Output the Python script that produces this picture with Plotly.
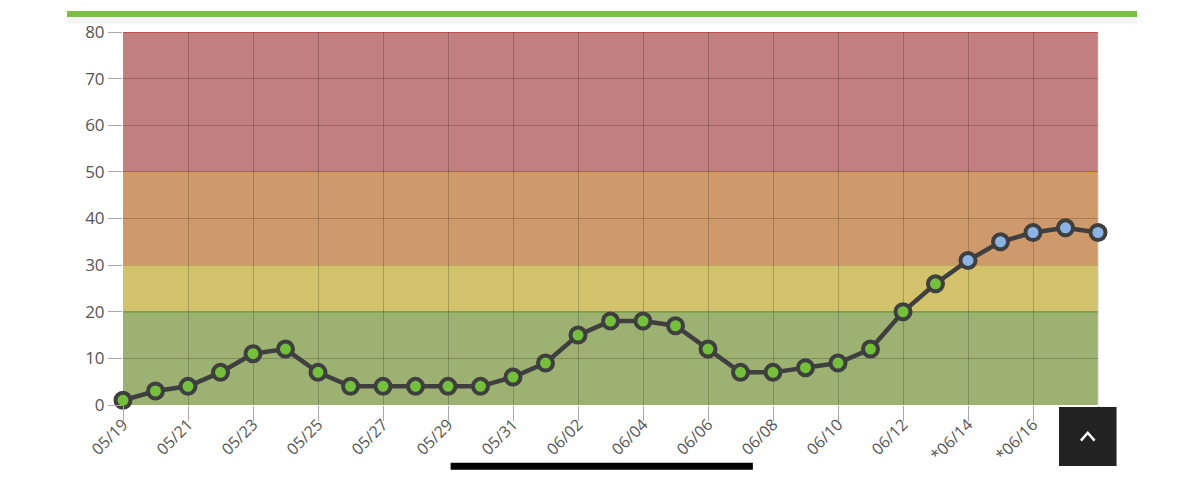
import plotly.graph_objects as go

# Daily index values (05/19 .. 06/18), entries from 06/14 on are forecasts
dates = ["05/19", "05/20", "05/21", "05/22", "05/23", "05/24", "05/25", "05/26",
         "05/27", "05/28", "05/29", "05/30", "05/31", "06/01", "06/02", "06/03",
         "06/04", "06/05", "06/06", "06/07", "06/08", "06/09", "06/10", "06/11",
         "06/12", "06/13", "06/14", "06/15", "06/16", "06/17", "06/18"]
values = [1, 3, 4, 7, 11, 12, 7, 4, 4, 4, 4, 4, 6, 9, 15, 18,
          18, 17, 12, 7, 7, 8, 9, 12, 20, 26, 31, 35, 37, 38, 37]
forecast = [False] * 26 + [True] * 5

tick_dates = dates[::2]
tick_labels = [("*" if f else "") + d for d, f in zip(dates[::2], forecast[::2])]

# Risk bands: (low, high, fill, edge line)
band_low = [0, 20, 30, 50]
band_high = [20, 30, 50, 80]
band_fill = ["#9db173", "#d1c26b", "#cf9a6b", "#c17f7f"]
band_edge = ["#5f9f30", "#f7e37a", "#e8913f", "#c23a3a"]

marker_colors = ["#8ab4e6" if f else "#74bf3c" for f in forecast]

fig = go.Figure()

fig.add_trace(go.Scatter(
    x=dates, y=values,
    mode="lines+markers",
    line=dict(color="#3f3f3f", width=4.5),
    marker=dict(size=15, color=marker_colors,
                line=dict(color="#3f3f3f", width=4)),
    cliponaxis=False,
    showlegend=False,
))

shapes = []
for lo, hi, fill, edge in zip(band_low, band_high, band_fill, band_edge):
    shapes.append(dict(type="rect", xref="x domain", yref="y",
                       x0=0, x1=1, y0=lo, y1=hi,
                       fillcolor=fill, line_width=0, layer="below"))
    shapes.append(dict(type="line", xref="x domain", yref="y",
                       x0=0, x1=1, y0=hi, y1=hi,
                       line=dict(color=edge, width=1.5), layer="below"))
# thin right edge of the plot area
shapes.append(dict(type="line", xref="x domain", yref="y domain",
                   x0=1, x1=1, y0=0, y1=1,
                   line=dict(color="rgba(200,200,200,0.8)", width=1), layer="below"))

# page chrome from the screenshot: green header bar, back-to-top button, home bar
shapes.append(dict(type="rect", xref="paper", yref="paper",
                   x0=-0.0574, x1=1.040, y0=1.040, y1=1.056,
                   fillcolor="#7cbf45", line_width=0, layer="above"))
shapes.append(dict(type="rect", xref="paper", yref="paper",
                   x0=-0.0574, x1=1.040, y0=1.022, y1=1.040,
                   fillcolor="rgba(0,0,0,0.04)", line_width=0, layer="above"))
shapes.append(dict(type="rect", xref="paper", yref="paper",
                   x0=0.961, x1=1.018, y0=-0.161, y1=-0.008,
                   fillcolor="#222222", line=dict(color="#222222", width=2),
                   layer="above"))
shapes.append(dict(type="path", xref="paper", yref="paper",
                   path="M 0.9825,-0.0955 L 0.9895,-0.0745 L 0.9965,-0.0955",
                   line=dict(color="white", width=2.5), layer="above"))
shapes.append(dict(type="line", xref="paper", yref="paper",
                   x0=0.336, x1=0.646, y0=-0.164, y1=-0.164,
                   line=dict(color="#000000", width=7), layer="above"))

fig.update_layout(
    width=1200, height=481,
    margin=dict(l=115, r=110, t=24, b=84),
    paper_bgcolor="white",
    plot_bgcolor="white",
    font=dict(family="Open Sans", color="#555555", size=17),
    shapes=shapes,
    xaxis=dict(
        type="category",
        range=[0, len(dates) - 1],
        tickmode="array", tickvals=tick_dates, ticktext=tick_labels,
        tickangle=-45,
        ticks="outside", ticklen=3, tickcolor="#aaaaaa",
        minor=dict(ticks="outside", ticklen=15, tickcolor="#aaaaaa",
                   dtick=2, tick0=0, showgrid=False),
        tickfont=dict(size=16, color="#555555"),
        showgrid=True, gridcolor="rgba(0,0,0,0.2)", gridwidth=1,
        showline=False, zeroline=False, automargin=False,
    ),
    yaxis=dict(
        range=[0, 80], dtick=10,
        ticks="outside", ticklen=14, tickcolor="#aaaaaa",
        tickfont=dict(size=17, color="#555555"),
        showgrid=True, gridcolor="rgba(0,0,0,0.2)", gridwidth=1,
        showline=False, zeroline=False, automargin=False,
    ),
)

fig.write_html("out.html")
